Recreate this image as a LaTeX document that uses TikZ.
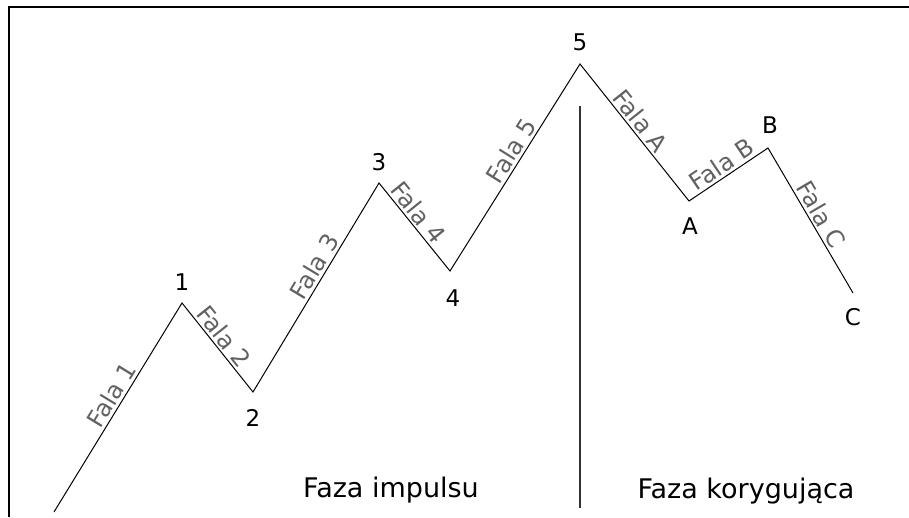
\documentclass[tikz,border=0pt]{standalone}
\usepackage{fontspec}
\setmainfont{DejaVu Sans}
\begin{document}
\begin{tikzpicture}[x=1pt,y=1pt,
  wave/.style={line width=1pt, black},
  wlabel/.style={font=\fontsize{24}{24}\selectfont, text=black!62, sloped, above, inner sep=2.5pt},
  ptlabel/.style={font=\fontsize{23}{23}\selectfont, inner sep=0pt},
  phase/.style={font=\fontsize{27}{27}\selectfont, inner sep=0pt, anchor=base},
  frame/.style={line width=2.5pt, black}]
\useasboundingbox (0,0) rectangle (909,517);
% frame
\coordinate (fb) at (9,0);
\coordinate (fc) at (9,510);
\coordinate (fr) at (909,510);
\draw[frame] (fb) -- (fc) -- (fr);
% wave points
\coordinate (s)  at (54,5);
\coordinate (p1) at (182,214);
\coordinate (p2) at (253,125);
\coordinate (p3) at (379,334);
\coordinate (p4) at (450,246);
\coordinate (p5) at (580,453);
\coordinate (pA) at (689,316);
\coordinate (pB) at (768,369);
\coordinate (pC) at (853,224);
\draw[wave, line join=miter] (s)
  -- node[wlabel,pos=.53]{Fala 1} (p1)
  -- node[wlabel,pos=.46]{Fala 2} (p2)
  -- node[wlabel,pos=.57]{Fala 3} (p3)
  -- node[wlabel,pos=.42]{Fala 4} (p4)
  -- node[wlabel,pos=.55]{Fala 5} (p5)
  -- node[wlabel,pos=.47]{Fala A} (pA)
  -- node[wlabel,pos=.5]{Fala B} (pB)
  -- node[wlabel,pos=.5]{Fala C} (pC);
% point labels
\node[ptlabel] (l1) at (182,235) {1};
\node[ptlabel] (l2) at (253,99) {2};
\node[ptlabel] (l3) at (379,355) {3};
\node[ptlabel] (l4) at (453,219) {4};
\node[ptlabel] (l5) at (580,475) {5};
\node[ptlabel] (lA) at (690,291) {A};
\node[ptlabel] (lB) at (770,392) {B};
\node[ptlabel] (lC) at (853,200) {C};
% divider
\coordinate (vt) at (580,411);
\coordinate (vb) at (580,9);
\draw[line width=1.5pt, black!80] (vt) -- (vb);
% phases
\node[phase] (fi) at (391,20) {Faza impulsu};
\node[phase] (fk) at (746,19) {Faza korygująca};
\end{tikzpicture}
\end{document}
